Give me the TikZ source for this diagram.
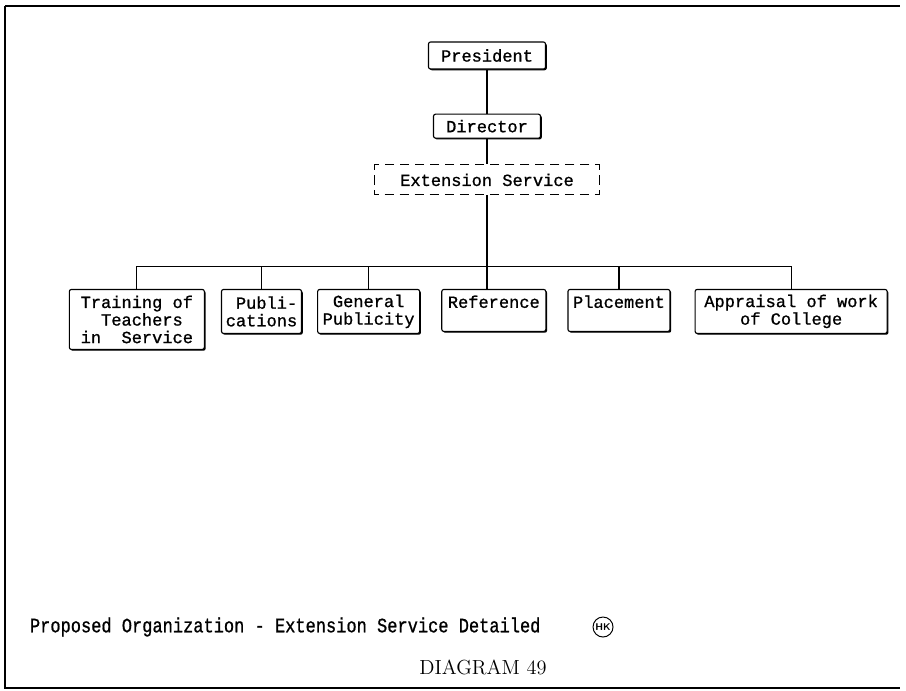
\documentclass[tikz,border=0pt]{standalone}
\usepackage{fontspec}
\newfontfamily\typer[FakeBold=1]{Liberation Mono}
\usetikzlibrary{positioning, shadows}

\begin{document}
\begin{tikzpicture}[
    x=0.025cm,
    y=-0.025cm,
    font={\typer\fontsize{12.1}{12.5}\selectfont},
    box/.style={
        rectangle,
        rounded corners=1.5pt,
        draw,
        fill=white,
        line width=0.8pt,
        align=center,
        inner sep=0pt,
        drop shadow={shadow xshift=0.9pt, shadow yshift=-0.9pt, opacity=1, fill=black}
    },
    dashbox/.style={
        rectangle,
        draw,
        dash pattern=on 6.75pt off 3.92pt,
        dash phase=3.375pt,
        line width=0.8pt,
        inner sep=0pt
    },
    link/.style={line width=0.8pt},
    frame/.style={line width=2pt}
]
\useasboundingbox (0,0) rectangle (906,690);

% Page frame
\draw[frame] (5,6) -- (900,6);
\draw[frame] (5,6) -- (5,688) -- (900,688);

% Top of the chart
\node[box, minimum width=2.925cm, minimum height=0.675cm] (pres) at (487,55.5) {President};
\node[box, minimum width=2.675cm, minimum height=0.6cm, below=1.1cm of pres] (dir) {Director};
\node[dashbox, minimum width=5.625cm, minimum height=0.75cm, below=0.64cm of dir] (ext) {Extension Service};

% Branches
\node[box, minimum width=2.6cm, minimum height=1.05cm, below=2.335cm of ext, xshift=0.17cm] (ref) {Reference\\\mbox{}};
\node[box, minimum width=2.55cm, minimum height=1.1cm, left=0.525cm of ref.north west, anchor=north east] (gen) {General\\Publicity};
\node[box, minimum width=2cm, minimum height=1.1cm, align=right, left=0.375cm of gen.north west, anchor=north east] (pub) {Publi-\\cations};
\node[box, minimum width=3.375cm, minimum height=1.5cm, align=left, left=0.4cm of pub.north west, anchor=north east] (train) {Training of\\\hphantom{xx}Teachers\\in\hphantom{xx}Service};
\node[box, minimum width=2.55cm, minimum height=1.05cm, right=0.525cm of ref.north east, anchor=north west] (place) {Placement\\\mbox{}};
\node[box, minimum width=4.8cm, minimum height=1.1cm, right=0.6cm of place.north east, anchor=north west] (appr) {Appraisal of work\\of College};

% Connections
\coordinate[below=1.785cm of ext.south] (bar);
\draw[link] (pres) -- (dir);
\draw[link] (dir) -- (ext);
\draw[link] (ext.south) -- (bar) -- (bar |- ref.north);
\foreach \kid in {train, pub, gen, place, appr}
    \draw[link] (bar) -| (\kid.north);

% Caption
\node[anchor=west] (caption) at (25,627) {\scalebox{1}[1.2]{Proposed Organization - Extension Service Detailed}};
\node[circle, draw, line width=0.7pt, inner sep=0.5pt, minimum size=0.5cm, font={\sffamily\bfseries\scriptsize}] (mark) at (603,627) {HK};
\node[font={\rmfamily\fontsize{14.5}{16}\selectfont}] (title) at (483,667) {DIAGRAM 49};

\end{tikzpicture}
\end{document}
